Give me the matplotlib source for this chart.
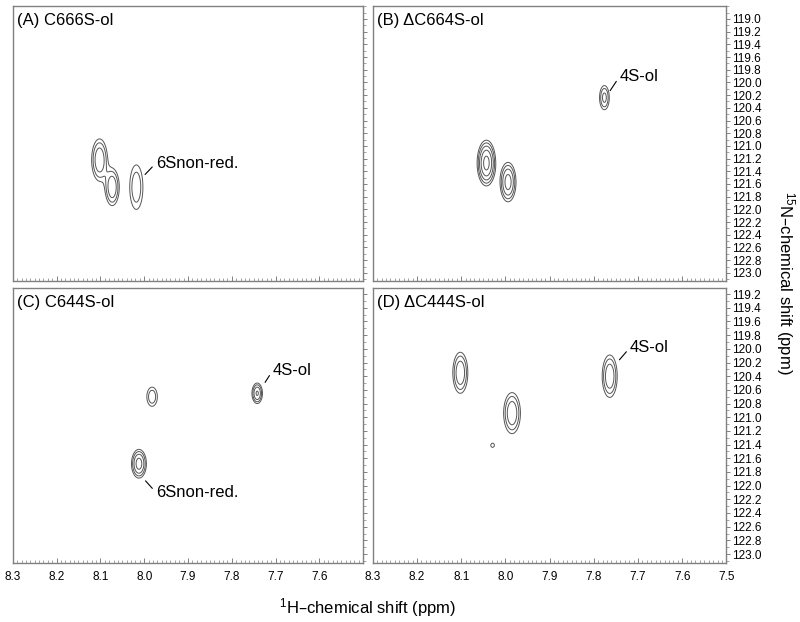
import numpy as np
import matplotlib
matplotlib.use("Agg")
import matplotlib.pyplot as plt
from matplotlib.ticker import MultipleLocator, FixedLocator, NullFormatter

plt.rcParams['font.family'] = ['Liberation Sans', 'DejaVu Sans']
plt.rcParams['mathtext.default'] = 'regular'

# panel titles
titles = ["(A) C666S-ol", "(B) \u0394C664S-ol", "(C) C644S-ol", "(D) \u0394C444S-ol"]

# peaks per panel: 1H shift, 15N shift, outer half-width (1H), outer half-width (15N), relative height
peak_h = [
    [8.102, 8.073, 8.018],
    [7.776, 8.043, 7.994],
    [7.982, 7.742, 8.012],
    [8.102, 7.985, 7.764, 8.029],
]
peak_n = [
    [121.22, 121.65, 121.65],
    [120.24, 121.27, 121.57],
    [120.70, 120.65, 121.68],
    [120.35, 120.94, 120.40, 121.41],
]
width_h = [
    [0.018, 0.016, 0.015],
    [0.011, 0.021, 0.018],
    [0.012, 0.012, 0.017],
    [0.017, 0.019, 0.017, 0.004],
]
width_n = [
    [0.33, 0.29, 0.35],
    [0.19, 0.36, 0.31],
    [0.14, 0.15, 0.21],
    [0.30, 0.30, 0.31, 0.03],
]
height = [
    [3.3, 3.3, 2.1],
    [2.6, 6.0, 4.2],
    [2.1, 3.6, 4.2],
    [3.3, 3.3, 3.3, 1.2],
]
contour_levels = [1.0, 1.5, 2.25, 3.4, 5.1]

# peak labels: text, text position, point where the leader line starts
label_text = [["6Snon-red."], ["4S-ol"], ["4S-ol", "6Snon-red."], ["4S-ol"]]
label_xy = [[(7.973, 121.27)], [(7.741, 119.90)], [(7.706, 120.31), (7.973, 122.10)], [(7.718, 119.98)]]
label_from = [[(7.998, 121.45)], [(7.763, 120.13)], [(7.724, 120.49), (7.997, 121.93)], [(7.742, 120.16)]]

xlim = (8.3, 7.5)
ylim_top = (123.13, 118.80)
ylim_bottom = (123.13, 119.11)
n_ticks = np.round(np.arange(119.0, 123.01, 0.2), 1)

fig = plt.figure(figsize=(8, 6.22), dpi=100)
lefts = [0.016, 0.466]
widths = [0.438, 0.442]
bottoms = [0.548, 0.095]
height_ax = 0.442

spine_col = '#808080'
line_col = '#555555'

hx = np.linspace(xlim[1], xlim[0], 1400)
ny = np.linspace(118.7, 123.3, 1000)
HX, NY = np.meshgrid(hx, ny)

for i in range(4):
    row, col = divmod(i, 2)
    ax = fig.add_axes([lefts[col], bottoms[row], widths[col], height_ax])
    field = np.zeros_like(HX)
    for px, py, wx, wy, h in zip(peak_h[i], peak_n[i], width_h[i], width_n[i], height[i]):
        s = np.sqrt(2 * np.log(h))
        sx, sy = wx / s, wy / s
        field += h * np.exp(-0.5 * (((HX - px) / sx) ** 2 + ((NY - py) / sy) ** 2))
    ax.contour(HX, NY, field, levels=contour_levels, colors=line_col, linewidths=0.7)

    ax.set_xlim(*xlim)
    ax.set_ylim(*(ylim_top if row == 0 else ylim_bottom))
    for sp in ax.spines.values():
        sp.set_color(spine_col)
        sp.set_linewidth(1.0)

    ax.text(0.012, 0.975, titles[i], transform=ax.transAxes, ha='left', va='top', fontsize=12)

    for t, xy, frm in zip(label_text[i], label_xy[i], label_from[i]):
        ax.annotate(t, xy=frm, xytext=xy, ha='left', va='center', fontsize=12,
                    arrowprops=dict(arrowstyle='-', color='black', lw=0.8,
                                    shrinkA=1, shrinkB=0, relpos=(0, 0.5)))

    # x ticks
    if col == 0:
        ax.xaxis.set_major_locator(FixedLocator([8.3, 8.2, 8.1, 8.0, 7.9, 7.8, 7.7, 7.6]))
    else:
        ax.xaxis.set_major_locator(MultipleLocator(0.1))
    ax.xaxis.set_minor_locator(MultipleLocator(0.01))
    ax.tick_params(axis='x', which='major', direction='in', length=3.5, width=0.7,
                   color=spine_col, labelsize=8.5, pad=6)
    ax.tick_params(axis='x', which='minor', direction='in', length=2, width=0.5, color=spine_col)
    if row == 0:
        ax.xaxis.set_major_formatter(NullFormatter())
    else:
        ax.xaxis.set_major_formatter(plt.FuncFormatter(lambda v, p: f"{v:.1f}"))

    # y ticks
    ax.yaxis.tick_right()
    ax.yaxis.set_major_locator(FixedLocator(n_ticks if row == 0 else n_ticks[1:]))
    ax.yaxis.set_minor_locator(MultipleLocator(0.1))
    ax.tick_params(axis='y', which='major', direction='out', length=3, width=0.7,
                   color=spine_col, labelsize=8.5, pad=1)
    ax.tick_params(axis='y', which='minor', direction='out', length=1.8, width=0.5, color=spine_col)
    if col == 0:
        ax.yaxis.set_major_formatter(NullFormatter())
    else:
        ax.yaxis.set_major_formatter(plt.FuncFormatter(lambda v, p: f"{v:.1f}"))

fig.text(0.459, 0.024, "$^{1}$H\u2013chemical shift (ppm)", ha='center', va='center', fontsize=12)
fig.text(0.982, 0.545, "$^{15}$N\u2013chemical shift (ppm)", ha='center', va='center',
         fontsize=12, rotation=270)

fig.savefig("out.png", dpi=100)
